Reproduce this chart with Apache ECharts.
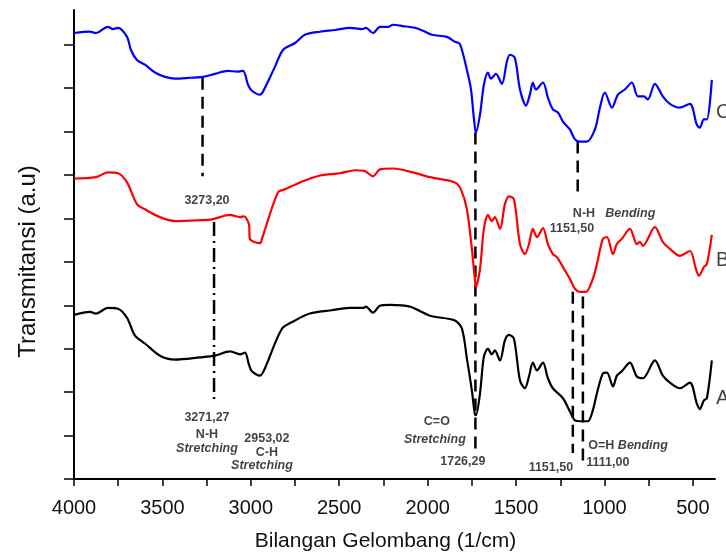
<!DOCTYPE html>
<html><head><meta charset="utf-8">
<script src="https://cdn.jsdelivr.net/npm/echarts@6/dist/echarts.min.js"></script>
<style>html,body{margin:0;padding:0;background:#fff}#c{width:726px;height:557px}</style>
</head><body><div id="c"></div>
<script>
// ---- axis ticks ----
const xLabelValues = [4000, 3500, 3000, 2500, 2000, 1500, 1000, 500];
const xTickValues = [4000, 3750, 3500, 3250, 3000, 2750, 2500, 2250, 2000, 1750, 1500, 1250, 1000, 750, 500];
const yTickValues = [0, 10, 20, 30, 40, 50, 60, 70, 80, 90, 100];

// ---- spectra: [wavenumber (1/cm), transmittance (a.u.)] ----
const specC = [[4000,102.7],[3910,103.0],[3876,102.7],[3808,104.1],[3780,103.6],[3751,103.9],[3700,101.8],[3678,98.8],[3644,96.5],[3599,95.4],[3542,93.6],[3485,92.6],[3429,92.2],[3344,92.4],[3271,92.6],[3203,93.3],[3129,94.0],[3078,93.8],[3044,94.0],[3016,90.8],[2994,89.4],[2948,88.5],[2931,89.2],[2864,94.9],[2818,98.8],[2750,100.4],[2694,102.3],[2609,103.0],[2524,103.4],[2440,103.9],[2372,103.6],[2349,103.9],[2309,102.7],[2270,104.1],[2225,104.1],[2196,104.6],[2140,104.3],[2072,103.9],[2027,103.2],[1976,102.3],[1891,101.8],[1846,100.7],[1818,100.2],[1778,94.2],[1755,89.7],[1738,82.8],[1727,79.8],[1704,83.9],[1682,90.8],[1659,93.6],[1642,92.2],[1614,93.3],[1580,91.0],[1552,96.1],[1535,97.7],[1507,97.0],[1478,89.7],[1444,86.0],[1422,88.5],[1405,91.3],[1388,89.7],[1348,91.3],[1320,87.8],[1292,85.1],[1263,84.4],[1235,82.3],[1196,80.5],[1167,78.2],[1139,77.7],[1100,77.7],[1054,80.5],[1026,85.5],[998,89.0],[958,85.5],[924,88.5],[885,89.7],[845,91.3],[811,88.1],[777,88.1],[755,87.4],[715,91.0],[670,88.1],[630,86.4],[574,85.5],[517,86.4],[478,81.6],[461,80.9],[438,82.8],[421,82.8],[393,91.9]];
const specB = [[4000,69.2],[3876,69.5],[3808,70.6],[3751,70.4],[3700,68.3],[3644,63.3],[3599,62.1],[3514,60.3],[3429,59.4],[3288,59.6],[3220,59.8],[3118,60.8],[3061,60.3],[3039,60.5],[3011,58.7],[3005,55.3],[2948,54.3],[2937,55.3],[2847,66.0],[2807,66.7],[2722,68.3],[2609,69.9],[2496,70.4],[2411,71.1],[2355,70.9],[2309,69.7],[2270,71.3],[2196,71.5],[2083,70.6],[1987,69.5],[1846,68.3],[1812,66.7],[1778,62.1],[1750,53.0],[1733,46.1],[1727,44.3],[1704,48.4],[1682,57.6],[1659,60.8],[1637,59.4],[1620,60.3],[1591,57.6],[1563,63.3],[1540,65.1],[1512,64.4],[1478,54.1],[1450,51.8],[1427,54.1],[1405,57.6],[1382,55.7],[1348,57.8],[1320,54.1],[1292,51.8],[1269,51.1],[1235,48.8],[1196,46.1],[1167,43.8],[1139,43.1],[1105,43.1],[1066,46.1],[1043,49.5],[1009,55.3],[986,55.7],[952,51.8],[930,54.1],[902,55.3],[856,57.6],[817,54.1],[800,54.6],[783,53.7],[715,58.0],[670,54.6],[630,53.0],[574,51.4],[517,52.5],[483,48.4],[466,46.8],[438,48.8],[421,49.5],[393,56.2]];
const specA = [[4000,37.8],[3910,38.5],[3876,38.1],[3808,39.4],[3751,39.2],[3700,37.1],[3655,33.0],[3599,31.2],[3514,28.4],[3429,27.5],[3288,28.0],[3203,28.4],[3118,29.4],[3061,28.7],[3033,29.1],[3011,26.4],[2994,24.8],[2948,23.8],[2920,25.5],[2824,34.6],[2750,36.5],[2666,38.1],[2553,38.8],[2440,39.4],[2366,39.4],[2349,39.7],[2309,38.3],[2270,39.9],[2213,40.1],[2100,39.7],[1987,37.6],[1846,36.5],[1806,34.6],[1778,27.7],[1750,20.4],[1733,14.9],[1727,14.7],[1704,19.7],[1682,28.2],[1659,30.0],[1637,28.7],[1620,29.6],[1591,27.3],[1563,31.9],[1540,33.2],[1512,32.3],[1478,22.7],[1450,20.9],[1427,23.6],[1405,26.8],[1382,25.0],[1348,26.8],[1320,23.2],[1292,20.9],[1235,18.6],[1196,15.6],[1167,13.5],[1139,13.3],[1094,13.3],[1066,15.8],[1043,19.7],[1009,24.3],[986,24.5],[952,21.3],[930,23.8],[902,24.8],[856,26.8],[817,23.6],[783,23.2],[715,27.3],[670,23.8],[630,22.2],[574,20.9],[517,22.2],[478,17.4],[461,16.1],[438,18.1],[421,18.6],[393,27.3]];

const curveNames = ['A', 'B', 'C'];
const curveColors = ['#000000', '#ff0000', '#0000ff'];
const curveNamePoints = [[372, 18.6], [372, 50.4], [372, 84.4]];

// ---- peak guide lines: wavenumber, from, to ----
const guideX = [3273, 3208, 1730, 1151.5, 1179, 1122];
const guideFrom = [92.4, 59.2, 79.8, 77.7, 43.1, 42.0];
const guideTo = [69.7, 18.1, 6.6, 65.1, 6.0, 4.1];
const guideDashDot = [false, true, false, false, false, false];

// ---- annotation texts: text, wavenumber, transmittance, italic ----
const noteText = ['3273,20', '3271,27', 'N-H', 'Stretching', '2953,02', 'C-H', 'Stretching', 'C=O', 'Stretching', '1726,29', 'N-H', 'Bending', '1151,50', '1151,50', 'O=H', 'Bending', '1111,00'];
const noteX = [3248, 3248, 3248, 3248, 2909, 2909, 2937, 1948, 1959, 1801, 1116, 854, 1184, 1303, 1018, 783, 981];
const noteY = [64.2, 14.2, 10.3, 6.9, 9.4, 6.2, 3.2, 13.3, 9.2, 4.1, 61.2, 61.2, 57.6, 2.75, 7.6, 7.6, 3.7];
const noteItalic = [false, false, false, true, false, false, true, false, true, false, false, true, false, false, false, true, false];

const FONT = '"Liberation Sans", Arial, sans-serif';
const chart = echarts.init(document.getElementById('c'), null, {renderer: 'canvas'});

const series = [];
guideX.forEach((gx, i) => {
  series.push({
    type: 'line', data: [[gx, guideFrom[i]], [gx, guideTo[i]]], showSymbol: false, silent: true, z: 1,
    lineStyle: {color: '#000', width: 2.5, type: guideDashDot[i] ? [14, 5, 2, 5] : [12, 7]}
  });
});
[specA, specB, specC].forEach((d, i) => {
  series.push({
    name: curveNames[i], type: 'line', data: d, showSymbol: false, smooth: 0.3, z: 3,
    lineStyle: {color: curveColors[i], width: 2.2}
  });
});
series.push({
  type: 'scatter', clip: false, symbolSize: 1, itemStyle: {color: 'rgba(0,0,0,0)'}, z: 4, silent: true,
  data: noteText.map((t, i) => ({
    value: [noteX[i], noteY[i]],
    label: {show: true, position: 'inside', formatter: t, fontFamily: FONT, fontSize: 12.5, fontWeight: 'bold',
      fontStyle: noteItalic[i] ? 'italic' : 'normal', color: '#111'}
  }))
});
series.push({
  type: 'scatter', clip: false, symbolSize: 1, itemStyle: {color: 'rgba(0,0,0,0)'}, z: 4, silent: true,
  data: curveNames.map((n, i) => ({
    value: curveNamePoints[i],
    label: {show: true, position: 'right', distance: 0, formatter: n, fontFamily: FONT, fontSize: 20, color: '#111'}
  }))
});

chart.setOption({
  animation: false,
  backgroundColor: '#fff',
  grid: {left: 74, top: 10, width: 641, height: 471, containLabel: false},
  xAxis: {
    type: 'value', inverse: true, min: 375, max: 4000,
    name: 'Bilangan Gelombang (1/cm)', nameLocation: 'middle', nameGap: 52,
    nameTextStyle: {fontFamily: FONT, fontSize: 21, color: '#111', padding: [0, 18, 0, 0]},
    axisLine: {show: true, onZero: false, lineStyle: {color: '#000', width: 2}},
    axisTick: {show: true, inside: false, length: 7, customValues: xTickValues, lineStyle: {color: '#000', width: 1.5}},
    axisLabel: {show: true, customValues: xLabelValues, margin: 19, fontFamily: FONT, fontSize: 20, color: '#111',
      formatter: v => String(v)},
    splitLine: {show: false}
  },
  yAxis: {
    type: 'value', min: 0, max: 108,
    name: 'Transmitansi (a.u)', nameLocation: 'middle', nameGap: 34, nameRotate: 90,
    nameTextStyle: {fontFamily: FONT, fontSize: 24, color: '#111', padding: [0, 34, 0, 0]},
    axisLine: {show: true, onZero: false, lineStyle: {color: '#000', width: 2}},
    axisTick: {show: true, inside: false, length: 10, customValues: yTickValues, lineStyle: {color: '#000', width: 1.5}},
    axisLabel: {show: false},
    splitLine: {show: false}
  },
  series: series
});
</script></body></html>
